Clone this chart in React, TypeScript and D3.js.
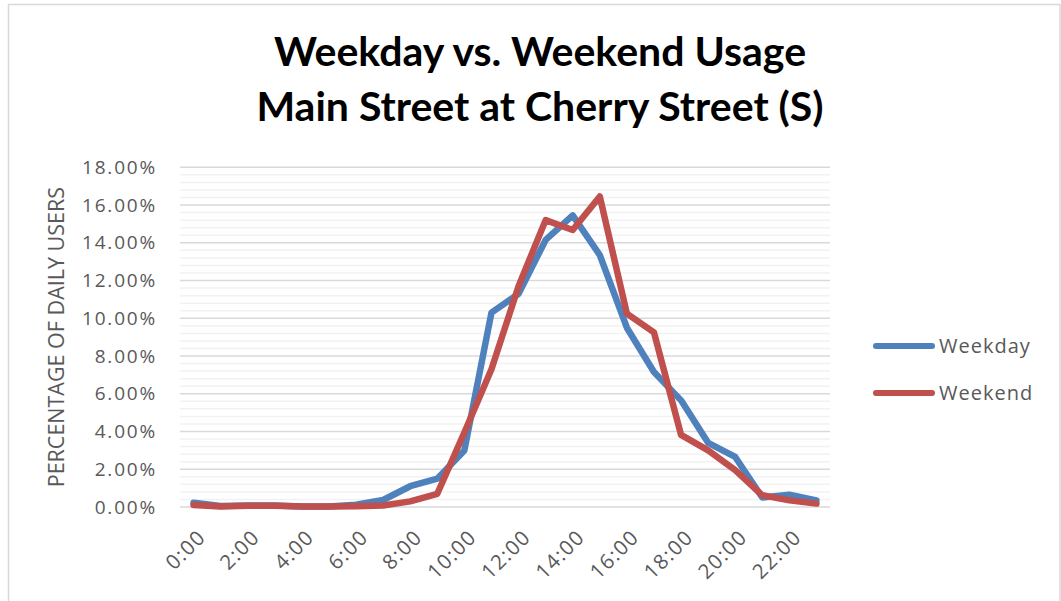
import React from "react";
import * as d3 from "d3";

const hours: string[] = Array.from({ length: 24 }, (_, i) => `${i}:00`);
const weekday: number[] = [0.22, 0.05, 0.08, 0.08, 0.03, 0.03, 0.12, 0.37, 1.1, 1.5, 3.0, 10.3, 11.3, 14.15, 15.45, 13.35, 9.5, 7.15, 5.65, 3.4, 2.65, 0.5, 0.65, 0.35];
const weekend: number[] = [0.1, 0.03, 0.07, 0.07, 0.03, 0.03, 0.04, 0.08, 0.3, 0.7, 3.95, 7.3, 11.7, 15.2, 14.68, 16.45, 10.25, 9.25, 3.82, 3.0, 1.95, 0.62, 0.35, 0.18];
const majorTicks: number[] = [0, 2, 4, 6, 8, 10, 12, 14, 16, 18];
const seriesNames: string[] = ["Weekday", "Weekend"];
const titleLines: string[] = ["Weekday vs. Weekend Usage", "Main Street at Cherry Street (S)"];
const yTitle = "PERCENTAGE OF DAILY USERS";

const W = 1061, H = 601;
const left = 180, right = 830, top = 167.3, bottom = 507;
const colors = ["#4f81bd", "#c0504d"];
const textColor = "#595959";

export default function App() {
  const x = d3.scaleBand<string>().domain(hours).range([left, right]);
  const y = d3.scaleLinear().domain([0, 18]).range([bottom, top]);
  const minor = d3.range(0, 46).map((i) => +(i * 0.4).toFixed(2)).filter((v) => Math.abs(v / 2 - Math.round(v / 2)) > 1e-6);
  const line = d3
    .line<number>()
    .x((_, i) => (x(hours[i]) as number) + x.bandwidth() / 2)
    .y((d) => y(d));
  const data = [weekday, weekend];
  const font = "'Open Sans', sans-serif";
  return (
    <svg width={W} height={H} style={{ position: "absolute", left: 0, top: 0 }} fontFamily={font}>
      <rect x={0} y={0} width={W} height={H} fill="#fff" />
      <rect x={8.5} y={4.5} width={1051.5} height={620} fill="none" stroke="#d9d9d9" strokeWidth={1.5} />
      {titleLines.map((t, i) => (
        <text key={t} x={540} y={66 + i * 55} textAnchor="middle" fontFamily="Lato, sans-serif" fontWeight="bold" fontSize={41} fill="#000">
          {t}
        </text>
      ))}
      {minor.map((v) => (
        <line key={"m" + v} x1={left} x2={right} y1={y(v)} y2={y(v)} stroke="#f2f2f2" strokeWidth={1.5} />
      ))}
      {majorTicks.map((v) => (
        <line key={"M" + v} x1={left} x2={right} y1={y(v)} y2={y(v)} stroke="#d9d9d9" strokeWidth={1.5} />
      ))}
      {majorTicks.map((v) => (
        <text key={"t" + v} x={157} y={y(v)} dy="0.35em" textAnchor="end" fontSize={19} letterSpacing={1.8} fill={textColor}>
          {d3.format(".2f")(v) + "%"}
        </text>
      ))}
      <text transform={`translate(64,${(top + bottom) / 2}) rotate(-90)`} textAnchor="middle" fontSize={21.5} fill={textColor}>
        {yTitle}
      </text>
      {hours.map((h, i) =>
        i % 2 === 0 ? (
          <text
            key={h}
            transform={`translate(${(x(h) as number) + x.bandwidth() / 2 + 3},528) rotate(-45)`}
            textAnchor="end"
            dy="0.72em"
            fontSize={20.5}
            letterSpacing={1.4}
            fill={textColor}
          >
            {h}
          </text>
        ) : null
      )}
      {data.map((d, i) => (
        <path key={i} d={line(d) as string} fill="none" stroke={colors[i]} strokeWidth={6.5} strokeLinejoin="round" strokeLinecap="round" />
      ))}
      {seriesNames.map((n, i) => (
        <g key={n} transform={`translate(0,${346 + i * 47})`}>
          <line x1={876} x2={932} y1={0} y2={0} stroke={colors[i]} strokeWidth={6} strokeLinecap="round" />
          <text x={939} y={0} dy="0.35em" fontSize={20} letterSpacing={1} fill={textColor}>
            {n}
          </text>
        </g>
      ))}
    </svg>
  );
}
